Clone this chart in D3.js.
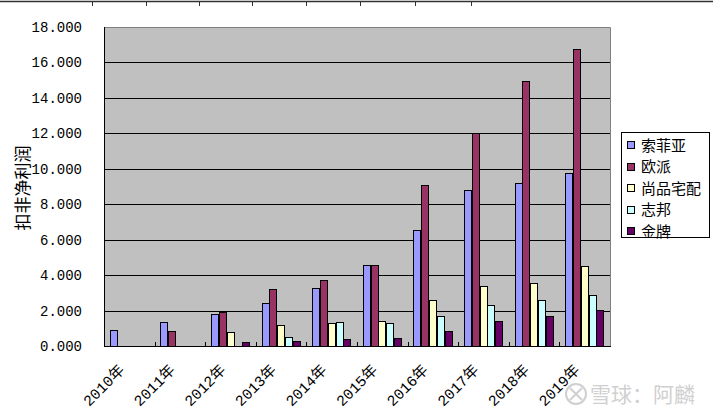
<!DOCTYPE html>
<html><head><meta charset="utf-8">
<script src="https://cdn.jsdelivr.net/npm/d3@7"></script>
<style>body{margin:0;background:#fff}svg{display:block}</style>
</head><body>
<svg id="c" width="713" height="417"></svg>
<script>
const categories = ["2010年","2011年","2012年","2013年","2014年","2015年","2016年","2017年","2018年","2019年"];
const seriesNames = ["索菲亚","欧派","尚品宅配","志邦","金牌"];
const sofia      = [0.90,1.35,1.79,2.43,3.25,4.55,6.55,8.79,9.20,9.76];
const oppein     = [null,0.85,1.92,3.22,3.70,4.55,9.09,12.00,14.95,16.76];
const shangpin   = [null,null,0.79,1.18,1.30,1.39,2.60,3.39,3.54,4.50];
const zbom       = [null,null,null,0.49,1.35,1.30,1.69,2.31,2.60,2.88];
const goldenhome = [null,null,0.23,0.28,0.40,0.43,0.85,1.41,1.69,2.01];
const yTicks = [0,2,4,6,8,10,12,14,16,18];
const colors = ["#9999FF","#993366","#FFFFCC","#CCFFFF","#660066"];
const seriesValues = [sofia, oppein, shangpin, zbom, goldenhome];

const svg = d3.select("#c");
const L = 104, R = 610, T = 27, B = 346;

// top spreadsheet line
svg.append("line").attr("x1",0).attr("x2",713).attr("y1",1.5).attr("y2",1.5).attr("stroke","#333").attr("stroke-width",1.5);
[92,146,199,252,306,360,415,471].forEach(x=>{
  svg.append("line").attr("x1",x+0.5).attr("x2",x+0.5).attr("y1",1).attr("y2",6).attr("stroke","#333");
});

const x = d3.scaleBand().domain(categories).range([L,R]).padding(0);
const y = d3.scaleLinear().domain([0,18]).range([B,T]);
const bw = x.bandwidth()/6.5;
const xs = d3.scaleBand().domain(seriesNames).range([0.75*bw, x.bandwidth()-0.75*bw]).padding(0);

// plot background
svg.append("rect").attr("x",L).attr("y",T).attr("width",R-L).attr("height",B-T).attr("fill","#C0C0C0");

// gridlines
const grid = svg.append("g");
yTicks.filter(t=>t>0 && t<18).forEach(t=>{
  grid.append("line").attr("x1",L).attr("x2",R).attr("y1",Math.round(y(t))+0.5).attr("y2",Math.round(y(t))+0.5)
    .attr("stroke","#000").attr("stroke-width",1);
});

// plot border (top/right)
svg.append("path").attr("d",`M${L},${T+0.5}H${R+0.5}V${B}`).attr("fill","none").attr("stroke","#808080").attr("stroke-width",1);

// bars
const bars = svg.append("g");
seriesValues.forEach((vals,si)=>{
  vals.forEach((v,ci)=>{
    if(v==null) return;
    const x0 = Math.round(x(categories[ci]) + xs(seriesNames[si]));
    const y0 = Math.round(y(v));
    bars.append("rect").attr("x",x0+0.5).attr("y",y0+0.5)
      .attr("width",Math.round(bw)-1).attr("height",Math.max(0,B-y0))
      .attr("fill",colors[si]).attr("stroke","#000").attr("stroke-width",1);
  });
});

// axes
const yAxis = d3.axisLeft(y).tickValues(yTicks).tickSize(0).tickPadding(22).tickFormat(d3.format(".3f"));
const ga = svg.append("g").attr("transform",`translate(${L},0)`).call(yAxis);
ga.select(".domain").remove();
ga.selectAll("text").attr("font-family","'Liberation Mono', monospace").attr("font-size","14px").attr("fill","#000");
svg.append("line").attr("x1",L+0.5).attr("x2",L+0.5).attr("y1",T).attr("y2",B+1).attr("stroke","#000");
svg.append("line").attr("x1",L).attr("x2",R+1).attr("y1",B+0.5).attr("y2",B+0.5).attr("stroke","#000");
// category tick marks (inside)
categories.slice(1).forEach(c=>{
  const xx = Math.round(x(c))+0.5;
  svg.append("line").attr("x1",xx).attr("x2",xx).attr("y1",B-4).attr("y2",B).attr("stroke","#000");
});

// x labels
const gx = svg.append("g");
categories.forEach(c=>{
  const cx = x(c)+x.bandwidth()/2;
  gx.append("text").attr("transform",`translate(${cx-4},${371}) rotate(-45)`)
    .attr("text-anchor","end").attr("font-family","'Liberation Mono','Noto Sans CJK SC',monospace")
    .attr("font-size","15px").attr("fill","#000").text(c);
});

// y title
svg.append("text").attr("transform","translate(29,188) rotate(-90)").attr("text-anchor","middle")
  .attr("font-family","'Noto Sans CJK SC',sans-serif").attr("font-size","17px").attr("fill","#000").text("扣非净利润");

// legend
const lg = svg.append("g");
lg.append("rect").attr("x",621.5).attr("y",132.5).attr("width",88).attr("height",105).attr("fill","#fff").attr("stroke","#000");
seriesNames.forEach((n,i)=>{
  const cy = 145 + i*21.5;
  lg.append("rect").attr("x",627.5).attr("y",Math.round(cy-4)+0.5).attr("width",7).attr("height",7)
    .attr("fill",colors[i]).attr("stroke","#000");
  lg.append("text").attr("x",641).attr("y",cy+5.5).attr("font-family","'Noto Sans CJK SC',sans-serif")
    .attr("font-size","15px").attr("fill","#000").text(n);
});

// watermark
const wm = svg.append("g").attr("opacity",0.55);
wm.append("circle").attr("cx",576).attr("cy",394).attr("r",10).attr("fill","none").attr("stroke","#aaa").attr("stroke-width",2);
wm.append("path").attr("d","M570,388 L582,400 M582,388 L570,400").attr("stroke","#aaa").attr("stroke-width",2);
wm.append("text").attr("x",590).attr("y",402).attr("font-family","'Noto Sans CJK SC',sans-serif").attr("font-size","21px")
  .attr("fill","#aaa").text("雪球：阿麟");
</script>
</body></html>
